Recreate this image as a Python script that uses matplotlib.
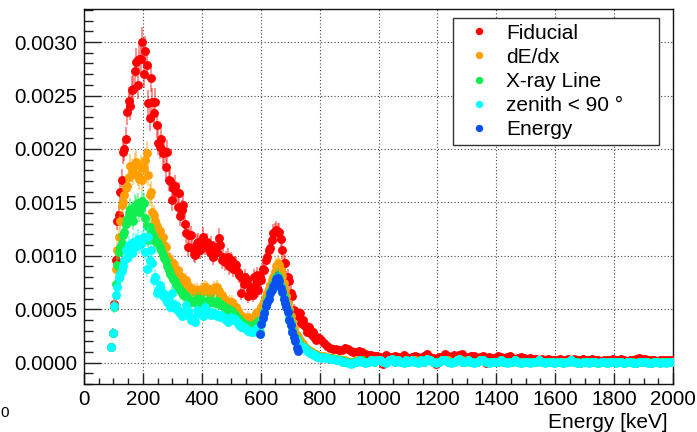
import numpy as np
import matplotlib
matplotlib.use("Agg")
import matplotlib.pyplot as plt
from matplotlib.lines import Line2D
from matplotlib.ticker import MultipleLocator, FormatStrFormatter

plt.rcParams['font.family'] = ['Liberation Sans', 'DejaVu Sans']

# ---------------- data ----------------
# bin centres [keV]: 5 keV bins below 800 keV, 10 keV bins above
ENERGY = np.concatenate([np.arange(92.5, 800, 5), np.arange(805, 2000, 10)])
ENERGY_PEAK = np.arange(597.5, 730, 5)   # bins of the "Energy" selection
UNIT = 1e-5                               # values below are in units of 1e-5

fiducial = [
    15, 28, 55, 96, 133, 138, 160, 171, 197, 200,
    209, 235, 245, 240, 255, 256, 273, 281, 260, 284,
    284, 300, 270, 292, 279, 243, 229, 266, 244, 234,
    244, 222, 206, 202, 209, 196, 198, 183, 197, 171,
    170, 152, 163, 165, 160, 146, 159, 137, 143, 148,
    130, 121, 108, 119, 119, 107, 102, 101, 112, 113,
    105, 110, 118, 113, 109, 113, 107, 104, 110, 99,
    106, 108, 104, 117, 110, 96, 99, 94, 97, 99,
    90, 96, 94, 88, 92, 91, 85, 82, 65, 79,
    74, 80, 77, 62, 68, 71, 63, 80, 74, 82,
    68, 80, 77, 88, 87, 96, 99, 105, 107, 115,
    121, 122, 124, 122, 122, 116, 105, 93, 93, 79,
    80, 76, 65, 62, 49, 47, 46, 44, 46, 37,
    40, 35, 33, 29, 33, 29, 26, 29, 24, 21,
    24, 23,
    21, 18, 16, 14, 13, 13, 12, 12, 14, 13,
    11, 10, 10, 11, 10, 8, 7, 7, 6, 6,
    5, -1, 7, 5, 5, 6, 5, 5, 7, 5,
    4, 5, 6, 5, 4, 6, 8, 5, 4, -1,
    5, 5, 8, 6, 5, 7, 5, 7, 8, 4,
    5, 6, 6, 4, 5, 6, 0, 5, 4, 4,
    6, 5, 4, 5, 6, 4, 3, 4, 5, 4,
    3, 4, 3, 3, 2, 3, 2, 3, 2, 2,
    2, 3, 2, 2, 3, 2, 3, 2, 2, 3,
    2, 2, 3, 2, 2, 1, 2, 2, 2, 3,
    2, 2, 3, 2, 1, 2, 2, 3, 4, 3,
    3, 2, 2, 2, 1, 2, 2, 2, 2, 2,
]

dedx = [
    15, 28, 53, 88, 105, 118, 133, 148, 150, 157,
    163, 165, 174, 184, 180, 177, 185, 188, 176, 172,
    183, 171, 182, 190, 196, 176, 157, 160, 141, 138,
    133, 128, 119, 123, 116, 118, 110, 108, 100, 96,
    94, 91, 93, 89, 85, 87, 82, 79, 80, 74,
    76, 77, 72, 69, 70, 68, 66, 68, 68, 66,
    66, 68, 69, 67, 71, 70, 68, 64, 66, 68,
    70, 69, 71, 67, 62, 63, 60, 59, 57, 56,
    57, 55, 57, 54, 51, 52, 48, 46, 44, 43,
    42, 41, 40, 43, 41, 39, 40, 42, 46, 46,
    47, 49, 52, 55, 58, 62, 65, 69, 73, 77,
    80, 85, 90, 93, 91, 87, 81, 75, 68, 62,
    56, 50, 44, 38, 32, 28, 26, 24, 21, 19,
    17, 16, 14, 13, 12, 11, 10, 9, 8, 8,
    7, 6,
    6, 6, 5, 4, 4, 3, 3, 2, 2, 1,
    1, 1, 2, 2, 2, 1, 1, 2, 2, 2,
    2, 1, 1, 2, 3, 2, 2, 1, 1, 2,
    1, 2, 2, 1, 2, 1, 3, 2, 1, 1,
    1, 2, 2, 2, 1, 1, 2, 3, 2, 1,
    2, 1, 1, 1, 2, 2, 1, 1, 1, 1,
    1, 2, 1, 1, 1, 1, 2, 1, 1, 1,
    1, 1, 1, 1, 2, 1, 1, 1, 1, 1,
    1, 1, 1, 1, 1, 2, 1, 1, 0, 1,
    1, 1, 1, 1, 0, 1, 1, 1, 1, 1,
    1, 1, 1, 0, 1, 1, 1, 0, 1, 1,
    1, 1, 0, 1, 1, 1, 1, 1, 1, 1,
]

xray_line = [
    15, 28, 52, 74, 91, 104, 108, 112, 119, 122,
    130, 134, 140, 144, 138, 133, 148, 146, 149, 141,
    145, 151, 149, 135, 128, 115, 127, 122, 120, 116,
    114, 113, 112, 108, 105, 101, 98, 95, 90, 87,
    83, 80, 78, 76, 73, 71, 69, 68, 66, 63,
    63, 62, 60, 59, 57, 58, 58, 57, 59, 60,
    60, 55, 56, 58, 57, 58, 56, 57, 58, 57,
    57, 56, 58, 55, 55, 54, 53, 51, 50, 49,
    49, 48, 48, 46, 45, 44, 42, 40, 39, 37,
    36, 35, 34, 35, 34, 33, 33, 35, 37, 38,
    38, 29, 38, 44, 48, 55, 59, 62, 67, 70,
    74, 77, 80, 81, 78, 72, 68, 62, 58, 54,
    49, 42, 37, 31, 26, 22, 22, 19, 17, 16,
    15, 15, 13, 12, 10, 9, 9, 8, 7, 7,
    6, 5,
    5, 5, 4, 4, 3, 3, 2, 2, 1, 1,
    0, 1, 1, 2, 2, 1, 1, 2, 1, 2,
    2, 1, 1, 2, 3, 1, 2, 1, 1, 2,
    1, 2, 1, 1, 2, 1, 3, 2, 1, 1,
    1, 2, 2, 1, 1, 1, 2, 3, 1, 1,
    2, 1, 1, 1, 2, 2, 1, 1, 1, 1,
    1, 2, 1, 1, 1, 1, 2, 1, 0, 1,
    1, 1, 1, 1, 2, 1, 1, 1, 1, 1,
    1, 1, 0, 1, 1, 2, 1, 1, 0, 1,
    1, 1, 1, 1, 0, 1, 1, 0, 1, 1,
    1, 1, 1, 0, 1, 1, 1, 0, 1, 1,
    1, 1, 0, 1, 1, 0, 1, 1, 1, 1,
]

zenith = [
    15, 28, 53, 63, 71, 79, 83, 86, 90, 96,
    105, 98, 110, 105, 103, 113, 108, 113, 116, 110,
    112, 115, 118, 104, 88, 118, 96, 105, 93, 77,
    80, 65, 68, 73, 68, 62, 64, 60, 57, 59,
    52, 65, 55, 51, 54, 49, 47, 46, 44, 45,
    47, 54, 48, 44, 40, 42, 41, 38, 49, 46,
    47, 46, 44, 48, 52, 49, 46, 47, 45, 46,
    46, 45, 44, 45, 43, 44, 43, 41, 40, 38,
    41, 42, 41, 40, 41, 39, 37, 35, 33, 34,
    33, 32, 31, 30, 30, 29, 29, 30, 31, 32,
    32, 27, 36, 42, 46, 53, 57, 60, 65, 68,
    72, 75, 78, 79, 76, 70, 66, 60, 56, 52,
    47, 40, 35, 29, 24, 20, 21, 18, 16, 15,
    15, 14, 13, 11, 10, 9, 8, 8, 7, 6,
    5, 5,
    4, 5, 4, 3, 3, 2, 2, 1, 1, 0,
    -1, 0, 1, 2, 1, 0, 1, 2, 1, 2,
    2, 1, 0, 2, 3, 1, 2, 1, 0, 2,
    1, 2, 1, 0, 2, 1, 3, 2, 1, 0,
    1, 2, 2, 1, 0, 1, 2, 3, 1, 1,
    2, 1, 0, 1, 2, 2, 1, 0, 1, 1,
    1, 2, 1, 0, 1, 1, 2, 1, 0, 1,
    1, 0, 1, 1, 2, 1, 0, 1, 1, 0,
    1, 1, 0, 1, 1, 2, 1, 0, 0, 1,
    1, 0, 1, 1, 0, 1, 1, 0, 1, 1,
    0, 1, 1, 0, 1, 1, 0, 0, 1, 1,
    1, 0, 0, 1, 1, 0, 1, 0, 1, 1,
]

energy_cut = [27, 36, 42, 46, 53, 57, 60, 65, 68, 72, 75, 78, 79, 76,
              70, 66, 60, 56, 52, 47, 40, 35, 29, 24, 20, 14, 11]

labels = ["Fiducial", "dE/dx", "X-ray Line", "zenith < 90 \u00b0", "Energy"]
colors = ["#ff0000", "#ffa000", "#10ee50", "#00ffff", "#0a50f0"]
ERR_SCALE = 6.5e-6   # Poisson-like error model: sigma = sqrt(y * ERR_SCALE)

series = [
    (ENERGY, fiducial),
    (ENERGY, dedx),
    (ENERGY, xray_line),
    (ENERGY, zenith),
    (ENERGY_PEAK, energy_cut),
]

# ---------------- plot ----------------
fig = plt.figure(figsize=(6.97, 4.32), dpi=100)
ax = fig.add_axes([84 / 697, 48 / 432, 589 / 697, 375 / 432])

for i, ((x, vals), col) in enumerate(zip(series, colors)):
    y = np.asarray(vals, dtype=float) * UNIT
    err = np.sqrt(np.maximum(np.abs(y), 1e-5) * ERR_SCALE)
    ax.errorbar(x, y, yerr=err, fmt='none', ecolor=col, elinewidth=1.1,
                alpha=0.55, capsize=0, zorder=2 + 2 * i)
    ax.plot(x, y, ls='none', marker='o', ms=6.4, color=col, mec='none',
            zorder=3 + 2 * i)

ax.set_xlim(0, 2000)
ax.set_ylim(-0.0002, 0.00331)

ax.xaxis.set_major_locator(MultipleLocator(200))
ax.xaxis.set_minor_locator(MultipleLocator(50))
ax.yaxis.set_major_locator(MultipleLocator(0.0005))
ax.yaxis.set_minor_locator(MultipleLocator(0.0001))
ax.yaxis.set_major_formatter(FormatStrFormatter('%.4f'))

ax.tick_params(which='both', direction='in', top=False, right=False,
               labelsize=14.8, color='#222222')
ax.tick_params(axis='y', which='major', length=12.5, width=1.0, pad=4.8)
ax.tick_params(axis='y', which='minor', length=6.3, width=1.0)
ax.tick_params(axis='x', which='major', length=8, width=1.0, pad=4.0)
ax.tick_params(axis='x', which='minor', length=4, width=1.0)

ax.grid(True, which='major', ls=(0, (1, 2)), color='#444444', lw=0.8)
ax.set_axisbelow(True)
for sp in ax.spines.values():
    sp.set_linewidth(1.0)
    sp.set_color('#111111')

ax.set_xlabel("Energy [keV]", fontsize=15, loc='right')
ax.xaxis.set_label_coords(0.9915, -0.0773)

handles = [Line2D([], [], ls='none', marker='o', ms=5.3, color=c, mec='none')
           for c in colors]
leg = ax.legend(handles, labels, loc='upper left',
                bbox_to_anchor=(452.7 / 697, 1 - 18.3 / 432, 206.6 / 697, 0),
                bbox_transform=fig.transFigure, mode='expand', borderaxespad=0,
                fontsize=15, frameon=True, fancybox=False, framealpha=1,
                edgecolor='#333333', handlelength=2.0, handletextpad=0.3,
                labelspacing=0.25, borderpad=0.25)
leg.get_frame().set_linewidth(1.0)
leg.set_zorder(20)

# stray character at the lower-left edge of the original image
fig.text(0.5 / 697, 1 - 413 / 432, "0", fontsize=11, ha='left', va='center')

fig.savefig("out.png", dpi=100)
